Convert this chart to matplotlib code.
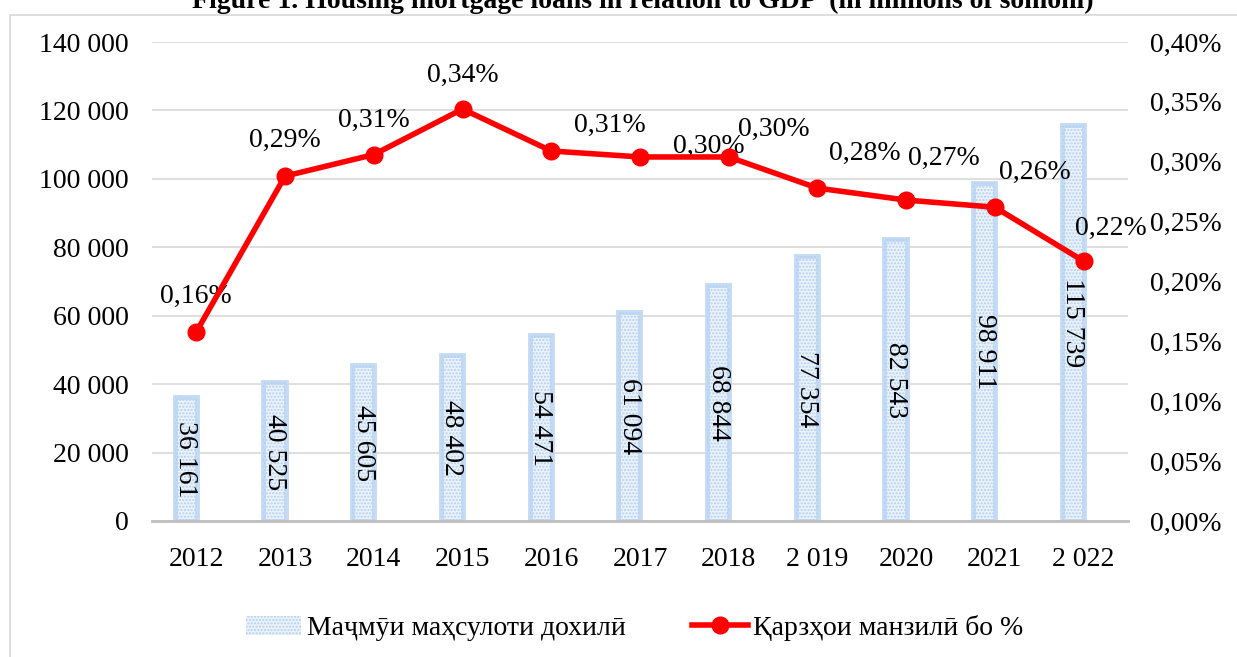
import matplotlib.pyplot as plt
from matplotlib.patches import Rectangle
from matplotlib.lines import Line2D

plt.rcParams['font.family'] = ['Liberation Serif', 'DejaVu Serif']

years = ['2012', '2013', '2014', '2015', '2016', '2017', '2018', '2 019', '2020', '2021', '2 022']
gdp = [36161, 40525, 45605, 48402, 54471, 61094, 68844, 77354, 82543, 98911, 115739]
loans_pct = [0.158, 0.288, 0.306, 0.344, 0.309, 0.304, 0.304, 0.278, 0.268, 0.262, 0.217]

# label offsets (pixels) for the percentage labels, as placed in the original
lbl_dx = [0, 0, 0, 0, 59, 69, 45, 47, 38, 40, 27]
lbl_dy = [35, 36, 34, 34, 26, 11, 28, 35, 42, 35, 33]

FS = 20

fig = plt.figure(figsize=(12.37, 6.57), dpi=100)
fig.patches.append(Rectangle((10 / 1237, -0.01), 1.0, 1 - 15 / 657 + 0.01, transform=fig.transFigure,
                             fill=False, edgecolor='#d9d9d9', linewidth=1.2))
ax = fig.add_axes([152 / 1237, 1 - 521 / 657, 976 / 1237, 479 / 657])
ax2 = ax.twinx()

x = list(range(len(years)))
bx = [i - 0.12 for i in x]
ax.bar(bx, gdp, width=0.25, color='#eaf2fb', edgecolor='#c4dbf5', linewidth=3.5, zorder=2)
ax.bar(bx, gdp, width=0.25, color='none', edgecolor='#b4cfee', hatch='.....', linewidth=0, zorder=2)
for xi, v in zip(bx, gdp):
    ax.text(xi, v / 2, f'{v:,}'.replace(',', ' '), rotation=270, ha='center', va='center',
            fontsize=FS, zorder=4)

ax.set_xlim(-0.5, len(years) - 0.5)
ax.set_ylim(0, 140000)
ax.set_yticks(range(0, 140001, 20000))
ax.set_yticklabels([f'{v:,}'.replace(',', ' ') for v in range(0, 140001, 20000)])
ax.set_xticks(x)
ax.set_xticklabels(years)
ax.grid(axis='y', color='#d9d9d9', linewidth=1.2, zorder=0)
ax.set_axisbelow(True)
for s in ['top', 'left', 'right']:
    ax.spines[s].set_visible(False)
ax.spines['bottom'].set_color('#bfbfbf')
ax.spines['bottom'].set_linewidth(2)
ax.tick_params(length=0, labelsize=FS, pad=17)
ax.tick_params(axis='x', pad=19)

ax2.plot(x, loans_pct, color='#ff0000', linewidth=4, marker='o', markersize=12, zorder=5)
for xi, v, dx, dy in zip(x, loans_pct, lbl_dx, lbl_dy):
    ax2.annotate(f'{v:.2f}'.replace('.', ',') + '%', (xi, v), xytext=(dx * 0.72, dy * 0.72),
                 textcoords='offset points', ha='center', va='center', fontsize=FS)
ax2.set_ylim(0, 0.40)
ax2.set_yticks([i * 0.05 for i in range(9)])
ax2.set_yticklabels([f'{i * 0.05:.2f}'.replace('.', ',') + '%' for i in range(9)])
for s in ax2.spines.values():
    s.set_visible(False)
ax2.tick_params(length=0, labelsize=FS, pad=16)

fig.text(0.52, 1 - 1 / 657, 'Figure 1. Housing mortgage loans in relation to GDP  (in millions of somoni)',
         ha='center', va='center', fontsize=20, fontweight='bold')

handles = [Rectangle((0, 0), 1, 1, facecolor='#eaf2fb', edgecolor='#b4cfee', hatch='.....', linewidth=0),
           Line2D([], [], color='#ff0000', linewidth=4, marker='o', markersize=12)]
fig.legend(handles, ['Маҷмӯи маҳсулоти дохилӣ', 'Қарзҳои манзилӣ бо %'], loc='center',
           bbox_to_anchor=(0.513, 1 - 628 / 657), ncol=2, frameon=False, fontsize=FS,
           columnspacing=2.4, handlelength=2.0, handletextpad=0.2)

fig.savefig('out.png', dpi=100)
